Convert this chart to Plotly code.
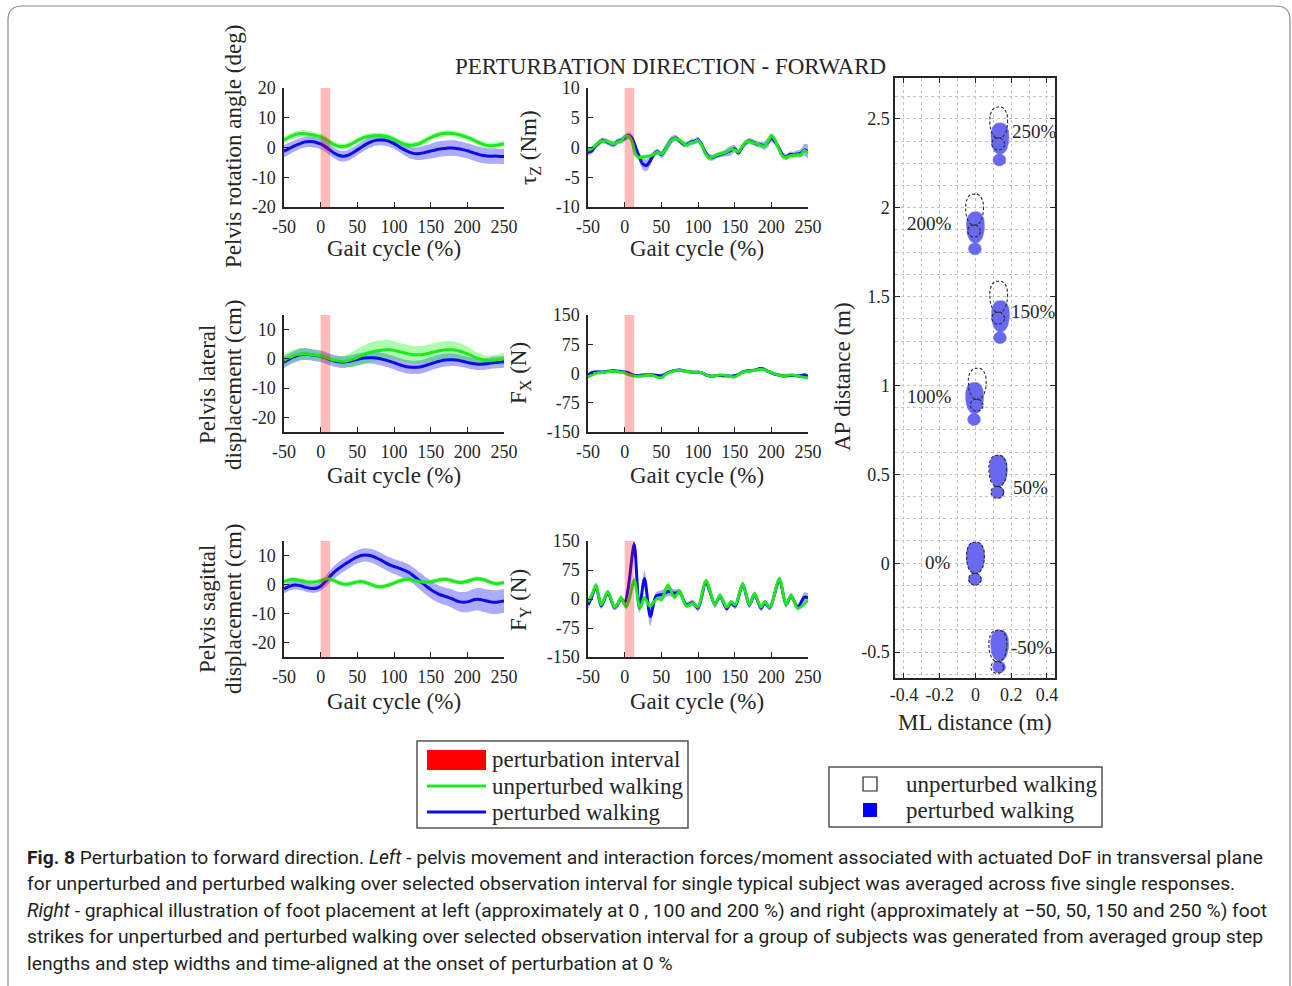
import math
import plotly.graph_objects as go

# ---------------- DATA ----------------
gait_x = [-50, -45, -40, -35, -30, -25, -20, -15, -10, -5,
          0, 5, 10, 15, 20, 25, 30, 35, 40, 45,
          50, 55, 60, 65, 70, 75, 80, 85, 90, 95,
          100, 105, 110, 115, 120, 125, 130, 135, 140, 145,
          150, 155, 160, 165, 170, 175, 180, 185, 190, 195,
          200, 205, 210, 215, 220, 225, 230, 235, 240, 245,
          250]

perturb_interval = [0, 13]

# Pelvis rotation angle (deg)
rot_unpert = [2.5, 3.2, 3.8, 4.3, 4.6, 4.7, 4.6, 4.4, 4.2, 3.9,
              3.6, 3.0, 2.2, 1.4, 0.8, 0.4, 0.3, 0.5, 1.0, 1.6,
              2.3, 2.9, 3.4, 3.7, 3.9, 4.0, 4.0, 3.9, 3.7, 3.3,
              2.7, 2.1, 1.5, 1.0, 0.8, 0.8, 1.0, 1.4, 2.0, 2.7,
              3.3, 3.9, 4.3, 4.6, 4.8, 4.8, 4.7, 4.5, 4.2, 3.8,
              3.4, 2.9, 2.3, 1.7, 1.2, 0.8, 0.6, 0.6, 0.8, 1.0,
              1.3]
rot_unpert_sd = [1.1, 1.1, 1.1, 1.1, 1.1, 1.1, 1.1, 1.1, 1.1, 1.1,
                 1.1, 1.1, 1.0, 1.0, 1.0, 1.0, 1.0, 1.0, 1.0, 1.0,
                 1.0, 1.0, 1.0, 1.0, 1.0, 1.0, 1.0, 1.0, 1.0, 1.0,
                 1.0, 1.0, 1.0, 1.0, 1.0, 1.0, 1.0, 1.0, 1.0, 1.0,
                 1.0, 1.0, 1.0, 1.0, 1.0, 1.0, 1.0, 1.0, 1.0, 1.0,
                 1.0, 1.0, 1.0, 1.0, 1.0, 1.0, 1.0, 1.0, 1.0, 1.0,
                 1.0]
rot_pert = [-1.2, -0.6, 0.0, 0.6, 1.1, 1.6, 1.9, 2.0, 1.9, 1.6,
            1.2, 0.5, -0.4, -1.3, -2.1, -2.7, -2.9, -2.8, -2.3, -1.6,
            -0.8, 0.0, 0.8, 1.5, 2.0, 2.4, 2.5, 2.5, 2.3, 1.9,
            1.3, 0.6, -0.2, -0.9, -1.5, -1.9, -2.1, -2.0, -1.8, -1.5,
            -1.2, -0.9, -0.6, -0.4, -0.3, -0.2, -0.2, -0.3, -0.5, -0.8,
            -1.1, -1.5, -1.9, -2.3, -2.6, -2.8, -2.9, -2.9, -2.9, -3.0,
            -3.0]
rot_pert_sd = [2.0, 2.0, 1.9, 1.9, 1.8, 1.8, 1.8, 1.8, 1.8, 1.8,
               1.8, 1.8, 1.8, 1.8, 1.8, 1.8, 1.8, 1.8, 1.8, 1.8,
               1.8, 1.8, 1.8, 1.8, 1.8, 1.8, 1.8, 1.8, 1.8, 1.8,
               1.8, 1.8, 1.8, 1.9, 2.0, 2.0, 2.1, 2.2, 2.3, 2.4,
               2.5, 2.6, 2.6, 2.6, 2.6, 2.6, 2.6, 2.6, 2.6, 2.6,
               2.6, 2.6, 2.6, 2.6, 2.6, 2.6, 2.6, 2.6, 2.6, 2.6,
               2.6]

# Pelvis lateral displacement (cm)
lat_unpert = [-0.5, 0.2, 0.8, 1.3, 1.6, 1.7, 1.7, 1.6, 1.4, 1.2,
              1.0, 0.6, 0.2, -0.2, -0.5, -0.7, -0.8, -0.7, -0.4, 0.0,
              0.5, 1.0, 1.5, 2.0, 2.4, 2.7, 2.9, 3.0, 3.1, 3.1,
              2.9, 2.6, 2.3, 2.0, 1.7, 1.5, 1.4, 1.4, 1.5, 1.8,
              2.1, 2.4, 2.7, 2.9, 3.1, 3.1, 3.1, 2.9, 2.6, 2.2,
              1.7, 1.2, 0.6, 0.1, -0.3, -0.6, -0.6, -0.5, -0.3, -0.1,
              0.0]
lat_unpert_sd = [2.0, 2.0, 2.0, 2.0, 2.0, 2.0, 2.0, 1.8, 1.6, 1.4,
                 1.2, 1.2, 1.2, 1.2, 1.3, 1.5, 1.8, 2.1, 2.4, 2.7,
                 3.0, 3.1, 3.2, 3.3, 3.3, 3.4, 3.4, 3.4, 3.4, 3.3,
                 3.2, 3.1, 3.0, 3.0, 3.0, 3.0, 3.0, 3.0, 3.0, 3.0,
                 3.0, 3.0, 3.0, 3.0, 3.0, 3.0, 3.0, 2.9, 2.8, 2.7,
                 2.5, 2.3, 2.1, 1.9, 1.8, 1.7, 1.7, 1.7, 1.8, 1.9,
                 2.0]
lat_pert = [-1.1, -0.4, 0.3, 0.8, 1.3, 1.6, 1.6, 1.5, 1.3, 1.1,
            0.9, 0.5, 0.0, -0.4, -0.8, -1.0, -1.1, -1.0, -0.8, -0.5,
            -0.2, 0.1, 0.3, 0.4, 0.4, 0.3, 0.1, -0.2, -0.5, -0.9,
            -1.3, -1.8, -2.2, -2.6, -2.8, -2.9, -2.9, -2.8, -2.5, -2.1,
            -1.7, -1.3, -0.9, -0.6, -0.4, -0.3, -0.3, -0.4, -0.6, -0.9,
            -1.2, -1.5, -1.7, -1.8, -1.8, -1.7, -1.5, -1.3, -1.2, -1.1,
            -1.0]
lat_pert_sd = [2.0, 2.0, 2.0, 2.0, 2.0, 2.0, 2.0, 2.0, 2.0, 2.0,
               2.0, 2.0, 2.0, 2.0, 2.0, 2.0, 2.0, 2.0, 2.0, 2.0,
               2.0, 2.0, 2.0, 2.0, 2.1, 2.1, 2.2, 2.2, 2.2, 2.2,
               2.3, 2.3, 2.3, 2.3, 2.3, 2.3, 2.3, 2.3, 2.3, 2.3,
               2.3, 2.2, 2.2, 2.2, 2.2, 2.2, 2.1, 2.1, 2.0, 2.0,
               2.0, 2.0, 2.0, 2.0, 2.0, 2.0, 2.0, 2.0, 2.0, 2.0,
               2.0]

# Pelvis sagittal displacement (cm)
sag_unpert = [1.0, 1.4, 1.7, 1.7, 1.5, 1.2, 0.9, 0.8, 0.8, 1.0,
              1.3, 1.8, 2.0, 1.7, 1.2, 0.6, 0.2, 0.1, 0.3, 0.6,
              0.9, 1.0, 0.8, 0.4, -0.1, -0.6, -0.8, -0.7, -0.4, 0.0,
              0.5, 1.0, 1.4, 1.7, 1.8, 1.6, 1.3, 1.0, 0.8, 0.8,
              0.9, 1.2, 1.5, 1.7, 1.8, 1.6, 1.2, 0.9, 0.7, 0.8,
              1.1, 1.5, 1.9, 2.0, 1.8, 1.4, 0.9, 0.5, 0.3, 0.4,
              0.7]
sag_unpert_sd = [0.8, 0.8, 0.8, 0.8, 0.8, 0.8, 0.8, 0.8, 0.8, 0.8,
                 0.8, 0.8, 0.8, 0.8, 0.8, 0.8, 0.8, 0.8, 0.8, 0.8,
                 0.8, 0.8, 0.8, 0.8, 0.8, 0.8, 0.8, 0.8, 0.8, 0.8,
                 0.8, 0.8, 0.8, 0.8, 0.8, 0.8, 0.8, 0.8, 0.8, 0.8,
                 0.8, 0.8, 0.8, 0.8, 0.8, 0.8, 0.8, 0.8, 0.8, 0.8,
                 0.8, 0.8, 0.8, 0.8, 0.8, 0.8, 0.8, 0.8, 0.8, 0.8,
                 0.8]
sag_pert = [-1.5, -0.9, -0.4, -0.2, -0.3, -0.6, -1.0, -1.3, -1.4, -1.2,
            -0.6, 0.6, 2.0, 3.4, 4.6, 5.6, 6.5, 7.3, 8.1, 8.9,
            9.5, 10.0, 10.2, 10.1, 9.8, 9.3, 8.7, 8.0, 7.3, 6.7,
            6.2, 5.8, 5.3, 4.8, 4.2, 3.3, 2.3, 1.2, 0.2, -0.8,
            -1.7, -2.5, -3.2, -3.7, -4.1, -4.5, -5.0, -5.6, -6.0, -6.1,
            -6.0, -5.6, -5.2, -5.1, -5.3, -5.6, -5.9, -6.1, -6.1, -5.9,
            -5.7]
sag_pert_sd = [1.5, 1.5, 1.5, 1.5, 1.5, 1.5, 1.5, 1.5, 1.5, 1.5,
               1.6, 1.8, 2.0, 2.1, 2.2, 2.3, 2.3, 2.3, 2.3, 2.3,
               2.3, 2.3, 2.3, 2.3, 2.4, 2.4, 2.5, 2.5, 2.5, 2.6,
               2.6, 2.6, 2.7, 2.7, 2.8, 2.8, 2.9, 2.9, 3.0, 3.0,
               3.0, 3.0, 3.0, 3.0, 3.0, 3.1, 3.2, 3.3, 3.4, 3.5,
               3.6, 3.7, 3.8, 3.9, 4.0, 4.0, 4.1, 4.1, 4.1, 4.1,
               4.1]

# Interaction moment tau_Z (Nm)
tauz_unpert = [-0.5, -0.2, 0.3, 0.9, 1.1, 1.1, 0.8, 0.6, 0.9, 1.1,
               1.8, 1.9, 1.0, -1.2, -1.7, -1.6, -1.5, -1.4, -1.1, -0.8,
               -1.1, -0.5, 0.6, 1.3, 1.5, 1.2, 0.7, 0.4, 0.8, 0.9,
               1.2, 0.4, -1.0, -1.7, -1.6, -1.3, -1.1, -0.9, -0.7, -0.3,
               -0.4, -0.7, 0.1, 0.9, 1.0, 0.8, 0.7, 0.4, 0.2, 0.9,
               2.0, 1.3, -0.2, -1.4, -1.7, -1.4, -1.3, -1.2, -1.2, -0.5,
               -0.9]
tauz_unpert_sd = [0.35, 0.35, 0.35, 0.35, 0.35, 0.35, 0.35, 0.35, 0.35, 0.35,
                  0.35, 0.35, 0.35, 0.35, 0.35, 0.35, 0.35, 0.35, 0.35, 0.35,
                  0.35, 0.35, 0.35, 0.35, 0.35, 0.35, 0.35, 0.35, 0.35, 0.35,
                  0.35, 0.35, 0.35, 0.35, 0.35, 0.35, 0.35, 0.35, 0.35, 0.35,
                  0.35, 0.35, 0.35, 0.35, 0.35, 0.35, 0.35, 0.35, 0.35, 0.35,
                  0.35, 0.35, 0.35, 0.35, 0.35, 0.35, 0.35, 0.35, 0.35, 0.35,
                  0.35]
tauz_pert = [-0.8, -0.6, 0.2, 0.8, 1.2, 1.0, 0.7, 0.5, 1.0, 1.2,
             1.6, 2.0, 1.6, 0.0, -1.6, -2.8, -3.0, -2.2, -1.1, -0.7,
             -1.2, -0.4, 0.6, 1.4, 1.6, 1.1, 0.6, 0.5, 0.9, 1.0,
             1.3, 0.5, -0.8, -1.6, -1.7, -1.4, -1.2, -1.0, -0.8, -0.5,
             -0.2, -0.9, 0.0, 0.8, 1.1, 0.9, 0.6, 0.5, 0.3, 0.8,
             1.6, 1.0, 0.0, -1.2, -1.6, -1.2, -1.2, -1.1, -1.0, -0.4,
             -0.7]
tauz_pert_sd = [0.5, 0.5, 0.5, 0.5, 0.5, 0.5, 0.5, 0.5, 0.5, 0.5,
                0.6, 0.6, 0.6, 0.7, 0.8, 1.0, 1.0, 0.8, 0.6, 0.5,
                0.6, 0.8, 0.8, 0.6, 0.5, 0.5, 0.5, 0.5, 0.5, 0.5,
                0.5, 0.5, 0.6, 0.6, 0.5, 0.5, 0.5, 0.5, 0.7, 0.8,
                0.6, 0.5, 0.5, 0.5, 0.5, 0.5, 0.5, 0.5, 0.7, 0.8,
                0.7, 0.5, 0.5, 0.5, 0.5, 0.5, 0.5, 0.6, 0.7, 1.0,
                1.2]

# Interaction force F_X (N)
fx_unpert = [-9, -4, 0, 2, 3, 4, 5, 6, 5, 3,
             2, -3, -5, -7, -7, -6, -5, -4, -6, -10,
             -11, -4, 2, 5, 8, 8, 7, 5, 4, 3,
             3, 2, -2, -6, -7, -5, -4, -4, -6, -8,
             -9, -4, 2, 5, 6, 7, 9, 11, 10, 6,
             3, -1, -4, -6, -5, -4, -4, -6, -8, -10,
             -11]
fx_unpert_sd = [2, 2, 2, 2, 2, 2, 2, 2, 2, 2,
                2, 2, 2, 2, 2, 2, 2, 2, 2, 2,
                2, 2, 2, 2, 2, 2, 2, 2, 2, 2,
                2, 2, 2, 2, 2, 2, 2, 2, 2, 2,
                2, 2, 2, 2, 2, 2, 2, 2, 2, 2,
                2, 2, 2, 2, 2, 2, 2, 2, 2, 2,
                2]
fx_pert = [-4, 2, 4, 4, 4, 5, 6, 7, 6, 5,
           4, 2, -3, -5, -5, -4, -4, -3, -4, -5,
           -6, -2, 3, 6, 8, 9, 7, 5, 4, 3,
           3, 2, -3, -6, -7, -5, -5, -6, -6, -7,
           -6, -3, 3, 6, 7, 8, 10, 13, 11, 6,
           2, -2, -4, -6, -6, -5, -5, -6, -6, -4,
           -8]
fx_pert_sd = [4, 4, 4, 4, 4, 4, 4, 4, 4, 4,
              4, 4, 4, 4, 4, 4, 4, 4, 4, 4,
              4, 4, 4, 4, 4, 4, 4, 4, 4, 4,
              4, 4, 4, 4, 4, 4, 4, 4, 4, 4,
              4, 4, 4, 4, 4, 4, 4, 4, 4, 4,
              4, 4, 4, 4, 4, 4, 4, 4, 4, 5,
              6]

# Interaction force F_Y (N) - read at turning points
fy_unpert_x = [-50, -45, -39, -32, -23, -14, -10, -5, 2, 7,
               13, 21, 27, 34, 45, 50, 59, 68, 75, 84,
               93, 100, 111, 123, 130, 139, 145, 151, 161, 170,
               177, 186, 191, 198, 211, 220, 227, 236, 250]
fy_unpert = [-7, 10, 36, -15, 19, -21, -15, 4, -21, 5,
             50, -24, 4, -18, 2, -2, 36, 4, 20, -18,
             -11, -21, 48, -15, 10, -21, -7, -15, 40, -15,
             14, -21, -7, -21, 53, -15, 10, -24, -3]
fy_unpert_sd = [4, 4, 4, 4, 4, 4, 4, 4, 4, 4,
                4, 4, 4, 4, 4, 4, 4, 4, 4, 4,
                4, 4, 4, 4, 4, 4, 4, 4, 4, 4,
                4, 4, 4, 4, 4, 4, 4, 4, 4]
fy_pert_x = [-50, -45, -39, -32, -23, -14, -10, -5, 0, 5,
             13, 20, 27, 35, 43, 52, 60, 68, 75, 84,
             93, 100, 111, 123, 130, 139, 145, 151, 161, 170,
             177, 186, 191, 198, 211, 220, 227, 236, 245, 250]
fy_pert = [-15, 5, 32, -18, 16, -22, -16, 2, -10, 30,
           142, -24, 53, -45, 8, 12, 20, 15, 18, -15,
           -10, -24, 43, -15, 8, -25, -10, -18, 38, -16,
           12, -24, -10, -22, 50, -15, 8, -22, 5, 3]
fy_pert_sd = [12, 8, 10, 8, 8, 8, 8, 8, 8, 12,
              15, 12, 20, 25, 10, 12, 12, 10, 8, 8,
              8, 8, 8, 8, 8, 8, 8, 8, 8, 8,
              8, 8, 8, 8, 8, 8, 8, 8, 12, 12]

# Foot placement (sole centre): ML (m), AP (m)
fp_labels = ["-50%", "0%", "50%", "100%", "150%", "200%", "250%"]
fp_pert_ml = [0.135, 0.0, 0.128, -0.005, 0.14, 0.0, 0.137]
fp_pert_ap = [-0.463, 0.031, 0.52, 0.93, 1.39, 1.89, 2.39]
fp_unpert_ml = [0.125, 0.0, 0.125, 0.01, 0.13, -0.005, 0.13]
fp_unpert_ap = [-0.465, 0.031, 0.52, 1.01, 1.50, 1.99, 2.48]

# Tick values / labels
gait_ticks = [-50, 0, 50, 100, 150, 200, 250]
gait_ticklabels = ["-50", "0", "50", "100", "150", "200", "250"]
rot_ticks = [-20, -10, 0, 10, 20]
rot_ticklabels = ["-20", "-10", "0", "10", "20"]
disp_ticks = [-20, -10, 0, 10]
disp_ticklabels = ["-20", "-10", "0", "10"]
tau_ticks = [-10, -5, 0, 5, 10]
tau_ticklabels = ["-10", "-5", "0", "5", "10"]
force_ticks = [-150, -75, 0, 75, 150]
force_ticklabels = ["-150", "-75", "0", "75", "150"]
ml_ticks = [-0.4, -0.2, 0, 0.2, 0.4]
ml_ticklabels = ["-0.4", "-0.2", "0", "0.2", "0.4"]
ap_ticks = [-0.5, 0, 0.5, 1, 1.5, 2, 2.5]
ap_ticklabels = ["-0.5", "0", "0.5", "1", "1.5", "2", "2.5"]

# ---------------- STYLE / LAYOUT ----------------
W, H = 1292, 986
SERIF = "Liberation Serif, Times New Roman, serif"
SANS = "Roboto, Liberation Sans, Arial, sans-serif"
TXT = "#262626"
BLUE = "rgb(12,12,232)"
GREEN = "rgb(30,232,30)"
BLUE_BAND = "rgba(0,0,255,0.33)"
GREEN_BAND = "rgba(0,255,0,0.33)"
FOOT_FILL = "rgb(104,104,240)"
LBL = 23


def px(x):
    return x / W


def py(y):
    return 1 - y / H


def sfx(i):
    return "" if i == 1 else str(i)


fig = go.Figure()

panels = [
    (1, 284, 504, 88, 207, [-20, 20], rot_ticks, rot_ticklabels),
    (2, 588, 808, 88, 207, [-10, 10], tau_ticks, tau_ticklabels),
    (3, 284, 504, 315, 432, [-25, 15], disp_ticks, disp_ticklabels),
    (4, 588, 808, 315, 432, [-150, 150], force_ticks, force_ticklabels),
    (5, 284, 504, 541, 657, [-25, 15], disp_ticks, disp_ticklabels),
    (6, 588, 808, 541, 657, [-150, 150], force_ticks, force_ticklabels),
]

layout_axes = {}
for idx, x0, x1, yt, yb, yr, yt_vals, yt_text in panels:
    common = dict(ticks="inside", ticklen=5, tickwidth=1.2, tickcolor=TXT,
                  showline=True, linecolor=TXT, linewidth=1.5, mirror=False,
                  showgrid=False, zeroline=False, fixedrange=True, automargin=False,
                  tickfont=dict(family=SERIF, size=18, color=TXT),
                  ticklabelstandoff=3)
    layout_axes["xaxis" + sfx(idx)] = dict(domain=[px(x0), px(x1)], range=[-50, 250],
                                           tickvals=gait_ticks, ticktext=gait_ticklabels,
                                           anchor="y" + sfx(idx), **common)
    layout_axes["yaxis" + sfx(idx)] = dict(domain=[py(yb), py(yt)], range=yr,
                                           tickvals=yt_vals, ticktext=yt_text,
                                           anchor="x" + sfx(idx), **common)

grid_style = dict(showgrid=True, gridcolor="#c4c4c4", griddash="dot", gridwidth=1)
layout_axes["xaxis7"] = dict(domain=[px(895), px(1055)], range=[-0.45, 0.445],
                             tickvals=ml_ticks, ticktext=ml_ticklabels,
                             ticks="inside", ticklen=5, tickcolor=TXT, showline=True,
                             linecolor=TXT, linewidth=1.5, mirror="ticks", zeroline=False,
                             fixedrange=True, anchor="y7", automargin=False,
                             tickfont=dict(family=SERIF, size=18, color=TXT),
                             minor=dict(dtick=0.1, tick0=0, ticks="", **grid_style),
                             **grid_style)
layout_axes["yaxis7"] = dict(domain=[py(678), py(78)], range=[-0.646, 2.73],
                             tickvals=ap_ticks, ticktext=ap_ticklabels,
                             ticks="inside", ticklen=5, tickcolor=TXT, showline=True,
                             linecolor=TXT, linewidth=1.5, mirror="ticks", zeroline=False,
                             fixedrange=True, anchor="x7", automargin=False,
                             tickfont=dict(family=SERIF, size=18, color=TXT),
                             minor=dict(dtick=0.125, tick0=0, ticks="", **grid_style),
                             **grid_style)


def add_band(x, y, sd, color, ax):
    lo = [a - b for a, b in zip(y, sd)]
    hi = [a + b for a, b in zip(y, sd)]
    fig.add_trace(go.Scatter(x=x, y=lo, mode="lines", line=dict(width=0, shape="spline", smoothing=0.8),
                             xaxis="x" + sfx(ax), yaxis="y" + sfx(ax), showlegend=False, hoverinfo="skip"))
    fig.add_trace(go.Scatter(x=x, y=hi, mode="lines", line=dict(width=0, shape="spline", smoothing=0.8),
                             fill="tonexty", fillcolor=color,
                             xaxis="x" + sfx(ax), yaxis="y" + sfx(ax), showlegend=False, hoverinfo="skip"))


def add_line(x, y, color, ax):
    fig.add_trace(go.Scatter(x=x, y=y, mode="lines", line=dict(width=3, color=color, shape="spline", smoothing=0.8),
                             xaxis="x" + sfx(ax), yaxis="y" + sfx(ax), showlegend=False))


series = [
    (1, gait_x, rot_pert, rot_pert_sd, gait_x, rot_unpert, rot_unpert_sd),
    (2, gait_x, tauz_pert, tauz_pert_sd, gait_x, tauz_unpert, tauz_unpert_sd),
    (3, gait_x, lat_pert, lat_pert_sd, gait_x, lat_unpert, lat_unpert_sd),
    (4, gait_x, fx_pert, fx_pert_sd, gait_x, fx_unpert, fx_unpert_sd),
    (5, gait_x, sag_pert, sag_pert_sd, gait_x, sag_unpert, sag_unpert_sd),
    (6, fy_pert_x, fy_pert, fy_pert_sd, fy_unpert_x, fy_unpert, fy_unpert_sd),
]
for ax, bx, by, bsd, gx, gy, gsd in series:
    add_band(bx, by, bsd, BLUE_BAND, ax)
    add_band(gx, gy, gsd, GREEN_BAND, ax)
    add_line(bx, by, BLUE, ax)
    add_line(gx, gy, GREEN, ax)

shapes = []
for ax in range(1, 7):
    shapes.append(dict(type="rect", xref="x" + sfx(ax), yref="y" + sfx(ax) + " domain",
                       x0=perturb_interval[0], x1=perturb_interval[1], y0=0, y1=1,
                       fillcolor="red", opacity=0.27, line=dict(width=0), layer="above"))


# Footprints (shoe-like outline around the sole centre)
def foot_poly(cx, cy):
    xs, ys = [], []
    n = 48
    for k in range(n + 1):
        t = 2 * math.pi * k / n
        s = math.sin(t)
        c = math.cos(t)
        # superellipse-ish sole, wider toward the toe
        xs.append(cx + 0.050 * math.copysign(abs(c) ** 0.8, c) * (1 + 0.08 * s))
        ys.append(cy + 0.088 * math.copysign(abs(s) ** 0.9, s))
    xs.append(None)
    ys.append(None)
    hc = cy - 0.121
    for k in range(n + 1):
        t = 2 * math.pi * k / n
        xs.append(cx - 0.003 + 0.036 * math.cos(t))
        ys.append(hc + 0.034 * math.sin(t))
    return xs, ys


for mlv, apv in zip(fp_pert_ml, fp_pert_ap):
    fx_, fy_ = foot_poly(mlv, apv)
    fig.add_trace(go.Scatter(x=fx_, y=fy_, mode="lines", fill="toself", fillcolor=FOOT_FILL,
                             line=dict(width=0.5, color=FOOT_FILL), xaxis="x7", yaxis="y7",
                             showlegend=False, hoverinfo="skip"))
for mlv, apv in zip(fp_unpert_ml, fp_unpert_ap):
    fx_, fy_ = foot_poly(mlv, apv)
    fig.add_trace(go.Scatter(x=fx_, y=fy_, mode="lines",
                             line=dict(width=1.1, color="#2a2a2a", dash="3px,2px"), xaxis="x7", yaxis="y7",
                             showlegend=False, hoverinfo="skip"))

annotations = []


def txt(x, y, text, size=LBL, angle=0, xanchor="center", yanchor="middle", family=SERIF, color=TXT):
    annotations.append(dict(x=px(x), y=py(y), xref="paper", yref="paper", text=text, showarrow=False,
                            font=dict(family=family, size=size, color=color), textangle=angle,
                            xanchor=xanchor, yanchor=yanchor))


# Footprint labels (offset layout)
label_pos = [(0.19, -0.472, "left"), (-0.125, 0.005, "right"), (0.2, 0.427, "left"),
             (-0.12, 0.938, "right"), (0.19, 1.416, "left"), (-0.12, 1.91, "right"),
             (0.195, 2.43, "left")]
for lab, (lx, ly, anc) in zip(fp_labels, label_pos):
    annotations.append(dict(x=lx, y=ly, xref="x7", yref="y7", text=lab, showarrow=False,
                            font=dict(family=SERIF, size=19, color=TXT), xanchor=anc, yanchor="middle"))

# Title and axis labels
txt(670, 67, "PERTURBATION DIRECTION - FORWARD")
for yc in (249, 475, 701):
    txt(394, yc, "Gait cycle (%)")
    txt(697, yc, "Gait cycle (%)")
txt(233, 147, "Pelvis rotation angle (deg)", angle=-90)
txt(207, 385, "Pelvis lateral", angle=-90)
txt(233, 385, "displacement (cm)", angle=-90)
txt(207, 609, "Pelvis sagittal", angle=-90)
txt(233, 609, "displacement (cm)", angle=-90)
txt(530, 148, "τ<sub>Z</sub> (Nm)", angle=-90)
txt(520, 373, "F<sub>X</sub> (N)", angle=-90)
txt(520, 600, "F<sub>Y</sub> (N)", angle=-90)
txt(842, 377, "AP distance (m)", angle=-90)
txt(975, 722, "ML distance (m)")

# Legends (drawn)
shapes += [
    dict(type="rect", xref="paper", yref="paper", x0=px(417), x1=px(688), y0=py(828), y1=py(741),
         line=dict(color="#555555", width=1.5), fillcolor="white", layer="below"),
    dict(type="rect", xref="paper", yref="paper", x0=px(427), x1=px(486), y0=py(770), y1=py(750),
         line=dict(width=0), fillcolor="red"),
    dict(type="line", xref="paper", yref="paper", x0=px(427), x1=px(486), y0=py(786), y1=py(786),
         line=dict(color=GREEN, width=3)),
    dict(type="line", xref="paper", yref="paper", x0=px(427), x1=px(486), y0=py(812), y1=py(812),
         line=dict(color=BLUE, width=3)),
    dict(type="rect", xref="paper", yref="paper", x0=px(829), x1=px(1102), y0=py(827), y1=py(767),
         line=dict(color="#555555", width=1.5), fillcolor="white", layer="below"),
    dict(type="rect", xref="paper", yref="paper", x0=px(863), x1=px(877), y0=py(791), y1=py(777),
         line=dict(color="#222222", width=1.2), fillcolor="white"),
    dict(type="rect", xref="paper", yref="paper", x0=px(863), x1=px(877), y0=py(817), y1=py(803),
         line=dict(width=0), fillcolor="rgb(0,0,255)"),
]
txt(490, 759, "perturbation interval", xanchor="left")
txt(490, 786, "unperturbed walking", xanchor="left")
txt(490, 812, "perturbed walking", xanchor="left")
txt(904, 784, "unperturbed walking", xanchor="left")
txt(904, 810, "perturbed walking", xanchor="left")

# Outer rounded frame (bottom edge lies below the page)
x0b, y0b, x1b, y1b, r = 8, 6, 1290, 1000, 14
path = ("M {a},{b} L {c},{b} Q {d},{b} {d},{e} L {d},{f} L {g},{f} L {g},{e} Q {g},{b} {a},{b} Z"
        .format(a=px(x0b + r), b=py(y0b), c=px(x1b - r), d=px(x1b), e=py(y0b + r), f=py(y1b), g=px(x0b)))
shapes.append(dict(type="path", xref="paper", yref="paper", path=path,
                   line=dict(color="#8a8a8a", width=1.2), layer="below"))

# Caption
cap = [
    "<b>Fig. 8</b> Perturbation to forward direction. <i>Left</i> - pelvis movement and interaction forces/moment associated with actuated DoF in transversal plane",
    "for unperturbed and perturbed walking over selected observation interval for single typical subject was averaged across five single responses.",
    "<i>Right</i> - graphical illustration of foot placement at left (approximately at 0 , 100 and 200 %) and right (approximately at \u221250, 50, 150 and 250 %) foot",
    "strikes for unperturbed and perturbed walking over selected observation interval for a group of subjects was generated from averaged group step",
    "lengths and step widths and time-aligned at the onset of perturbation at 0 %",
]
for i, line in enumerate(cap):
    txt(25, 857 + i * 26.5, line, size=19.25, xanchor="left", family=SANS, color="#231f20")

fig.update_layout(width=W, height=H, margin=dict(l=0, r=0, t=0, b=0, pad=0, autoexpand=False),
                  autosize=False,
                  paper_bgcolor="white", plot_bgcolor="white", showlegend=False,
                  shapes=shapes, annotations=annotations, **layout_axes)

fig.write_html("out.html", config={"displayModeBar": False, "responsive": False},
               post_script="document.body.style.margin='0';document.body.style.padding='0';"
                           "document.documentElement.style.overflow='hidden';")
